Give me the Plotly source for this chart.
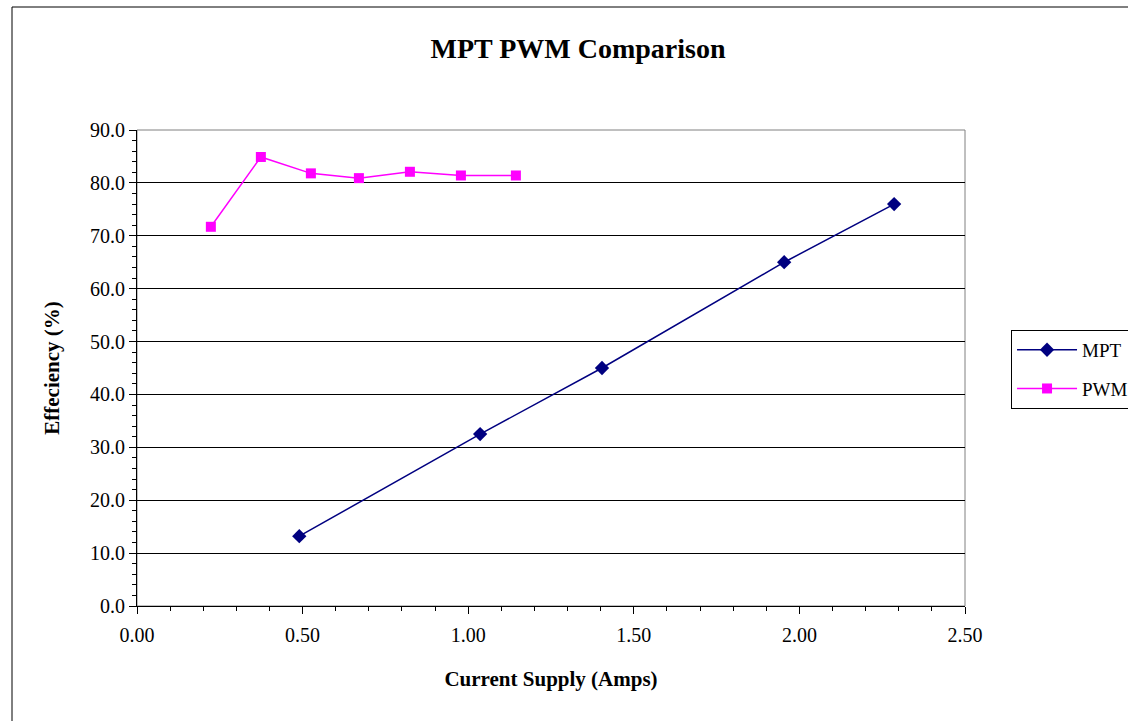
import plotly.graph_objects as go

mpt_x = [0.49, 1.036, 1.404, 1.954, 2.286]
mpt_y = [13.2, 32.5, 45.0, 65.0, 76.0]
pwm_x = [0.223, 0.374, 0.525, 0.670, 0.824, 0.978, 1.144]
pwm_y = [71.7, 84.9, 81.8, 80.9, 82.1, 81.4, 81.4]

x_ticks = [0.0, 0.5, 1.0, 1.5, 2.0, 2.5]
x_labels = ["0.00", "0.50", "1.00", "1.50", "2.00", "2.50"]
y_ticks = [0, 10, 20, 30, 40, 50, 60, 70, 80, 90]
y_labels = ["0.0", "10.0", "20.0", "30.0", "40.0", "50.0", "60.0", "70.0", "80.0", "90.0"]

FONT = "Liberation Serif"

fig = go.Figure()
fig.add_trace(go.Scatter(x=mpt_x, y=mpt_y, name="MPT", mode="lines+markers", legendgroup="a",
                         line=dict(color="#000080", width=1.5),
                         marker=dict(symbol="diamond", size=11, color="#000080")))
fig.add_trace(go.Scatter(x=pwm_x, y=pwm_y, name="PWM", mode="lines+markers", legendgroup="b",
                         line=dict(color="#FF00FF", width=1.5),
                         marker=dict(symbol="square", size=10, color="#FF00FF")))

fig.update_layout(
    width=1128, height=721,
    margin=dict(l=137, r=163, t=130, b=115, autoexpand=False),
    paper_bgcolor="white", plot_bgcolor="white",
    font=dict(family=FONT, color="black", size=19),
    title=dict(text="<b>MPT PWM Comparison</b>", x=(137 + 441) / 1128, xanchor="center",
               y=1 - 48 / 721, yanchor="middle", font=dict(size=28, family=FONT)),
    legend=dict(x=1.0556, y=0.58, xanchor="left", yanchor="top",
                bordercolor="black", borderwidth=1, bgcolor="white",
                font=dict(size=19, family=FONT), itemwidth=60,
                tracegroupgap=11),
    showlegend=True,
)
fig.update_xaxes(range=[0, 2.5], tickvals=x_ticks, ticktext=x_labels,
                 showgrid=False, zeroline=False, showline=True, linecolor="black", linewidth=1,
                 ticks="outside", ticklen=7, tickcolor="black", ticklabelstandoff=4,
                 minor=dict(dtick=0.1, ticks="outside", ticklen=4, tickcolor="black", showgrid=False),
                 title=dict(text="<b>Current Supply (Amps)</b>", font=dict(size=21, family=FONT), standoff=26),
                 tickfont=dict(size=20))
fig.update_yaxes(range=[0, 90], tickvals=y_ticks, ticktext=y_labels,
                 showgrid=True, gridcolor="black", gridwidth=1, zeroline=False,
                 showline=True, linecolor="black", linewidth=1,
                 ticks="outside", ticklen=7, tickcolor="black",
                 minor=dict(dtick=2, ticks="outside", ticklen=4, tickcolor="black", showgrid=False),
                 title=dict(text="<b>Effeciency (%)</b>", font=dict(size=21, family=FONT), standoff=24),
                 tickfont=dict(size=20))

# plot area border (gray top/right)
fig.add_shape(type="rect", xref="paper", yref="paper", x0=0, y0=0, x1=1, y1=1,
              line=dict(color="#808080", width=1), layer="below")
# outer chart frame
fig.add_shape(type="rect", xref="paper", yref="paper",
              x0=(12 - 137) / 828, x1=(1140 - 137) / 828,
              y0=(606 - 730) / 476, y1=(606 - 7) / 476,
              line=dict(color="black", width=1), layer="below")

fig.write_html("out.html")
